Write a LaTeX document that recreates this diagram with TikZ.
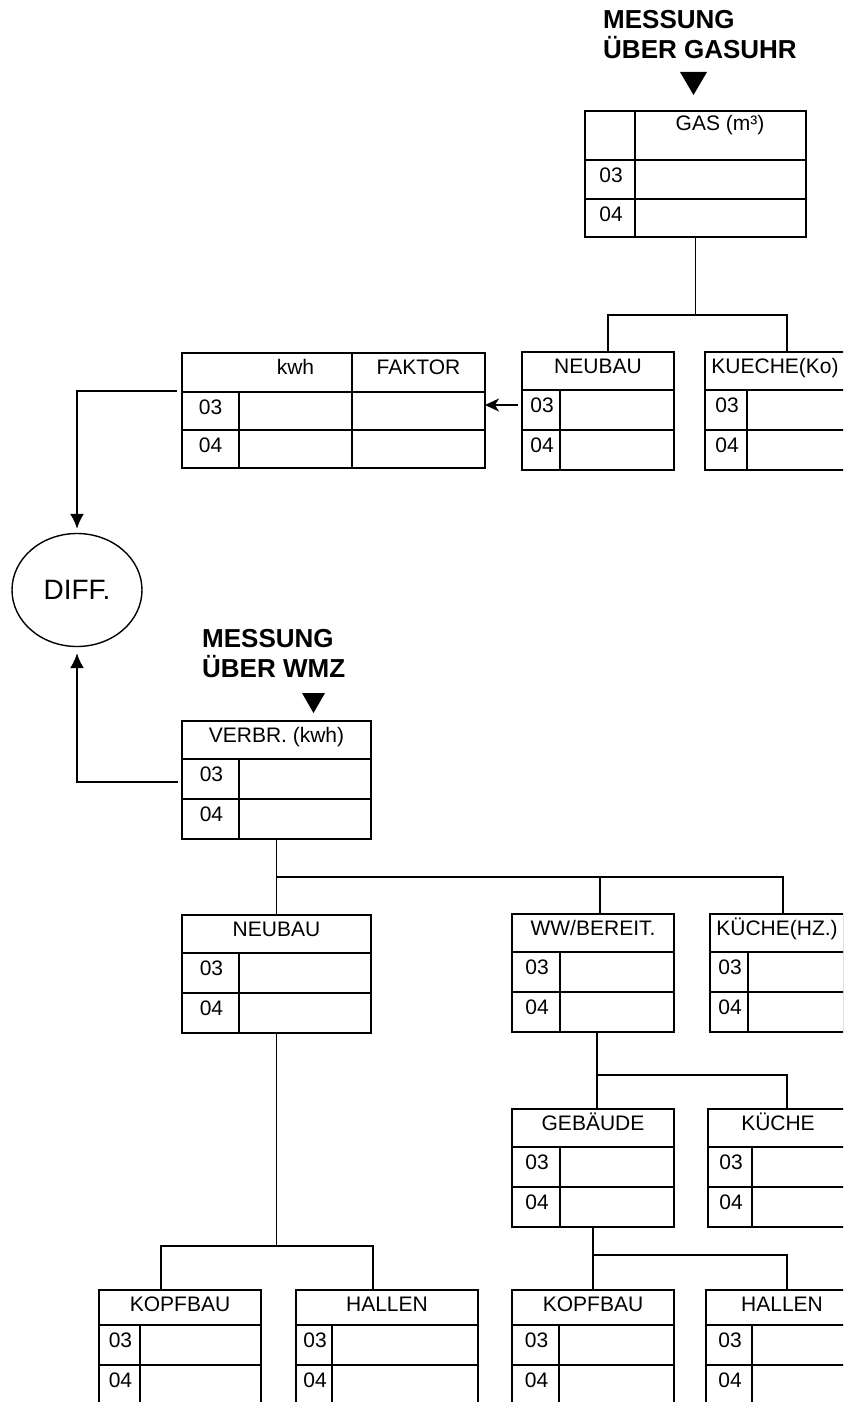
\documentclass[tikz,border=0pt]{standalone}
\usepackage{fontspec}
\setmainfont{Liberation Sans}
\usetikzlibrary{arrows.meta,shapes.geometric}

\begin{document}
\begin{tikzpicture}[x=1pt, y=-1pt, >=Latex,
  tab/.style={draw, line width=2pt, inner sep=0pt, outer sep=0pt, anchor=north west},
  grid/.style={line width=2pt},
  conn/.style={line width=1.7pt},
  lbl/.style={font=\fontsize{21}{24}\selectfont, inner sep=0pt, anchor=base},
  head/.style={font=\bfseries\fontsize{26}{30}\selectfont, inner sep=0pt, anchor=base west},
  pfeil/.style={conn, -{Latex[length=15pt,width=14pt]}}]

% --- PAGE ---
\useasboundingbox (0,0) rectangle (843,1402);
\clip (0,0) rectangle (843,1402);

% --- HEADINGS ---
\node[head] (gasmess) at (603,29) {MESSUNG};
\node[head] (gasuhr) at (603,59) {ÜBER GASUHR};
\fill (680,72) -- (707,72) -- (693.5,95) -- cycle;
\node[head] (wmzmess) at (202,647) {MESSUNG};
\node[head] (wmz) at (202,677) {ÜBER WMZ};
\fill (302,693) -- (325,693) -- (313.5,713) -- cycle;

% --- GAS TABLE ---
\node[tab, minimum width=221pt, minimum height=126pt] (gas) at (585,111) {};
\draw[grid] (585,160) -- (806,160) (585,199) -- (806,199) (635,111) -- (635,237);
\node[lbl] (gas-t) at (720,131) {GAS (m³)};
\node[lbl] (gas-a) at (611,182) {03};
\node[lbl] (gas-b) at (611,221) {04};

% --- KWH / FAKTOR TABLE ---
\node[tab, minimum width=303pt, minimum height=115pt] (kwh) at (182,353) {};
\draw[grid] (182,392) -- (485,392) (182,430) -- (485,430)
  (239,392) -- (239,468) (352,353) -- (352,468);
\node[lbl] (kwh-t) at (295.5,374) {kwh};
\node[lbl] (kwh-f) at (418.5,374) {FAKTOR};
\node[lbl] (kwh-a) at (210.5,414) {03};
\node[lbl] (kwh-b) at (210.5,452) {04};

% --- METER TABLES: name/x/y/width/column/header height/text ---
\foreach \name/\x/\y/\w/\c/\h/\txt in {
  gneu/522/352/152/38/38/NEUBAU,
  gkue/705/352/140/42/38/KUECHE(Ko),
  verbr/182/721/189/57/38/VERBR. (kwh),
  neubau/182/915/189/57/38/NEUBAU,
  ww/512/914/162/48/38/{WW/BEREIT.},
  kueche/710/914/134/38/38/KÜCHE(HZ.),
  geb/512/1109/162/48/38/GEBÄUDE,
  kue/708/1109/140/44/38/KÜCHE,
  kopf1/99/1290/162/41/35/KOPFBAU,
  hal1/296/1290/182/36/35/HALLEN,
  kopf2/512/1290/162/47/35/KOPFBAU,
  hal2/706/1290/152/46/35/HALLEN} {
  \node[tab, minimum width=\w pt, minimum height=\h pt+80pt] (\name) at (\x,\y) {};
  \draw[grid] (\x,\y+\h) -- (\x+\w,\y+\h) (\x,\y+\h+40) -- (\x+\w,\y+\h+40)
    (\x+\c,\y+\h) -- (\x+\c,\y+\h+80);
  \node[lbl] (\name-t) at (\x+\w/2,\y+21) {\txt};
  \node[lbl] (\name-a) at (\x+\c/2+1,\y+\h+22) {03};
  \node[lbl] (\name-b) at (\x+\c/2+1,\y+\h+62) {04};
}

% --- DIFF ---
\node[ellipse, draw, line width=1.4pt, minimum width=130pt, minimum height=113pt,
  inner sep=0pt, font=\fontsize{28}{30}\selectfont] (diff) at (77,590) {DIFF.};

% --- GAS BRANCH ---
\draw[conn] (gas.south) -- ++(0,78) coordinate (gsplit);
\draw[conn] ([xshift=10pt]gneu.north) |- (gsplit) -| ([xshift=12pt]gkue.north);
\coordinate (pa) at ([xshift=-4pt,yshift=-53pt]gneu.north west);
\draw[conn, -{Stealth[length=14pt,width=13pt,inset=4pt]}] (pa) -- (pa -| kwh.east);
\draw[pfeil, shorten >=4pt] ([xshift=-5pt,yshift=-38pt]kwh.north west) -| (diff.north);

% --- WMZ BRANCH ---
\draw[pfeil, shorten >=6pt] ([xshift=-4pt,yshift=-61pt]verbr.north west) -| (diff.south);
\coordinate (vsplit) at ([yshift=-38pt]verbr.south);
\draw[conn] (verbr.south) -- (neubau.north);
\draw[conn] (vsplit) -| ([xshift=7pt]ww.north);
\draw[conn] (vsplit) -| ([xshift=6pt]kueche.north);

\draw[conn] ([xshift=4pt]ww.south) -- ([xshift=4pt]geb.north);
\draw[conn] ([xshift=4pt,yshift=-43pt]ww.south) -| ([xshift=9pt]kue.north);

\draw[conn] (geb.south) -- (kopf2.north);
\draw[conn] ([yshift=-28pt]geb.south) -| ([xshift=5pt]hal2.north);

\coordinate (nsplit) at ([yshift=-213pt]neubau.south);
\draw[conn] (neubau.south) -- (nsplit);
\draw[conn] ([xshift=-19pt]kopf1.north) |- (nsplit) -| ([xshift=-14pt]hal1.north);

\end{tikzpicture}
\end{document}
